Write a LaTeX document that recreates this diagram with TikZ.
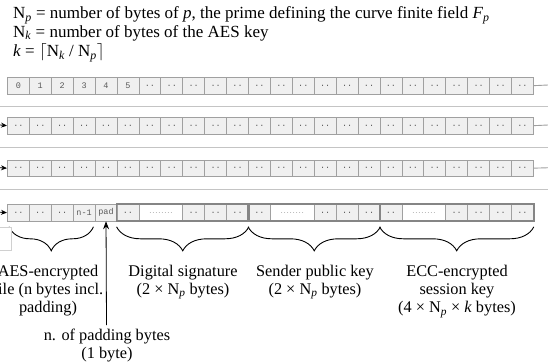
\documentclass[tikz,border=0pt]{standalone}
\usepackage{fontspec}
\setmainfont{Liberation Serif}
\newfontfamily\cellfont{Liberation Mono}
\usetikzlibrary{decorations.pathreplacing,arrows.meta}

\definecolor{cellfill}{HTML}{F0F0F0}
\definecolor{cellline}{HTML}{A0A0A0}
\definecolor{groupline}{HTML}{858585}
\definecolor{sepline}{HTML}{C4C4C4}
\definecolor{celltext}{HTML}{5A5A5A}
\definecolor{boxline}{HTML}{D0D0D0}

\newcommand\Nsub[1]{N\textsubscript{\textit{#1}}}
\newcommand\dotrun{{\fontsize{5}{6}\selectfont ........}}

\tikzset{
  bytecell/.style={draw=cellline, fill=cellfill, line width=0.8pt,
    minimum width=21.917pt, minimum height=16.5pt, inner sep=0pt,
    anchor=north west, text=celltext,
    font=\cellfont\fontsize{8.5}{9}\selectfont},
  widecell/.style={bytecell, fill=white, minimum width=43.833pt},
  grpbox/.style={draw=groupline, line width=1.8pt},
  rowsep/.style={draw=sepline, line width=0.9pt},
  wrapline/.style={draw=cellline, line width=0.9pt},
  feedarrow/.style={-{Stealth[length=6pt,width=5pt]}, line width=0.8pt},
  padarrow/.style={-{Stealth[length=8pt,width=6pt]}, line width=0.8pt},
  bracedeco/.style={decorate, decoration={brace, mirror, amplitude=24pt}, line width=0.9pt},
  caption/.style={font=\fontsize{16.3}{18.2}\selectfont, align=center, anchor=north, inner sep=0pt},
  headline/.style={font=\fontsize{17}{19}\selectfont, anchor=base west, inner sep=0pt},
}

\begin{document}
\begin{tikzpicture}[x=1pt, y=-1pt]
\useasboundingbox (0,0) rectangle (548,362);

% definitions at the top
\node[headline] (h1) at (13,18.5) {\Nsub{p} = number of bytes of \textit{p}, the prime defining the curve finite field \textit{F}\textsubscript{\textit{p}}};
\node[headline] (h2) at (13,37) {\Nsub{k} = number of bytes of the AES key};
\node[headline] (h3) at (13,56.5) {\textit{k} = $\lceil$\Nsub{k} / \Nsub{p}$\rceil$};

% row separators (the byte stream wraps from one row to the next)
\coordinate (s1l) at (0,106);   \coordinate (s1r) at (548,106);
\coordinate (s2l) at (0,147);   \coordinate (s2r) at (548,147);
\coordinate (s3l) at (0,189);   \coordinate (s3r) at (548,189);
\draw[rowsep] (s1l) -- (s1r);
\draw[rowsep] (s2l) -- (s2r);
\draw[rowsep] (s3l) -- (s3r);

% row 1
\foreach \i/\s in {1/0,2/1,3/2,4/3,5/4,6/5}
  \node[bytecell] (c1-\i) at ({7+(\i-1)*21.917},77) {\s};
\foreach \i in {7,...,24}
  \node[bytecell] (c1-\i) at ({7+(\i-1)*21.917},77) {..};

% rows 2 and 3
\foreach \r/\t in {2/117,3/159.5}
  \foreach \i in {1,...,24}
    \node[bytecell] (c\r-\i) at ({7+(\i-1)*21.917},\t) {..};

% row 4: end of file, padding byte, then the three key blocks
\foreach \i/\s in {1/..,2/..,3/..,4/n-1,5/pad,6/..,9/..,10/..,11/..,12/..,15/..,16/..,17/..,18/..,21/..,22/..,23/..,24/..}
  \node[bytecell] (c4-\i) at ({7+(\i-1)*21.917},204) {\s};
\foreach \i in {7,13,19}
  \node[widecell] (c4-\i) at ({7+(\i-1)*21.917},204) {\dotrun};

\draw[grpbox] (c4-6.north west) rectangle (c4-11.south east);
\draw[grpbox] (c4-12.north west) rectangle (c4-17.south east);
\draw[grpbox] (c4-18.north west) rectangle (c4-24.south east);

% wrap-around connectors
\coordinate (e1) at (548,85);
\coordinate (e2) at (548,125);
\coordinate (e3) at (548,167.75);
\draw[wrapline] (c1-24.east) -- (e1);
\draw[wrapline] (c2-24.east) -- (e2);
\draw[wrapline] (c3-24.east) -- (e3);

\coordinate (f2) at (0,125);
\coordinate (f3) at (0,167.75);
\coordinate (f4) at (0,212.25);
\draw[feedarrow] (f2) -- (c2-1.west);
\draw[feedarrow] (f3) -- (c3-1.west);
\draw[feedarrow] (f4) -- (c4-1.west);

% braces under the last row
\draw[bracedeco] ([xshift=2pt,yshift=-5.5pt]c4-1.south west) -- ([xshift=-2pt,yshift=-5.5pt]c4-4.south east);
\draw[bracedeco] ([yshift=-5.5pt]c4-6.south west) -- ([yshift=-5.5pt]c4-11.south east);
\draw[bracedeco] ([yshift=-5.5pt]c4-12.south west) -- ([yshift=-5.5pt]c4-17.south east);
\draw[bracedeco] ([yshift=-5.5pt]c4-18.south west) -- ([yshift=-5.5pt]c4-24.south east);

% small framed box at the left margin
\node[draw=boxline, fill=white, line width=0.8pt, anchor=north east, minimum width=20pt, minimum height=23pt, inner sep=0pt] (lbox) at (12,227) {};

% pointer to the padding byte
\coordinate (pa) at (106.5,325);
\draw[padarrow] (pa) -- (c4-5.south);

% captions
\node[caption] (lblaes) at (48,264.5) {AES-encrypted\\file (n bytes incl.\\padding)};
\node[caption] (lblsig) at (183,264.5) {Digital signature\\(2 × \Nsub{p} bytes)};
\node[caption] (lblpub) at (315,264.5) {Sender public key\\(2 × \Nsub{p} bytes)};
\node[caption] (lblecc) at (457,264.5) {ECC-encrypted\\session key\\(4 × \Nsub{p} × \textit{k} bytes)};
\node[caption] (lblpad) at (107,328.5) {n. of padding bytes\\(1 byte)};
\end{tikzpicture}
\end{document}
